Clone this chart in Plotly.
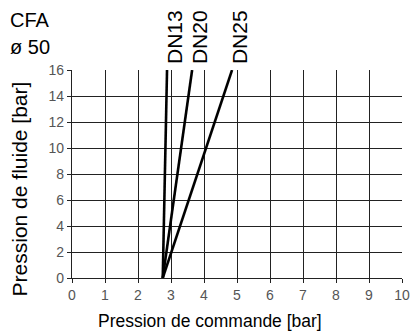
import plotly.graph_objects as go

series_names = ["DN13", "DN20", "DN25"]
start_x = [2.75, 2.75, 2.75]
end_x = [2.88, 3.64, 4.85]
start_y = [0, 0, 0]
end_y = [16, 16, 16]
x_ticks = list(range(0, 11))
y_ticks = list(range(0, 17, 2))

FONT = "Liberation Sans, Arial, Helvetica"

fig = go.Figure()
for n, x0, x1, y0, y1 in zip(series_names, start_x, end_x, start_y, end_y):
    fig.add_trace(go.Scatter(x=[x0, x1], y=[y0, y1], mode="lines",
                             line=dict(color="black", width=2.6), name=n,
                             showlegend=False, hoverinfo="skip"))
    fig.add_annotation(x=x1, y=y1, text=n, textangle=-90, showarrow=False,
                       xanchor="center", yanchor="bottom", yshift=4, xshift=7,
                       font=dict(family=FONT, size=21, color="black"))

fig.add_annotation(xref="paper", yref="paper", x=-0.194, y=1.240, text="CFA",
                   showarrow=False, xanchor="left", yanchor="middle",
                   font=dict(family=FONT, size=20, color="black"))
fig.add_annotation(xref="paper", yref="paper", x=-0.194, y=1.111, text="ø 50",
                   showarrow=False, xanchor="left", yanchor="middle",
                   font=dict(family=FONT, size=20, color="black"))
fig.add_annotation(xref="paper", yref="paper", x=0.417, y=-0.207,
                   text="Pression de commande [bar]", showarrow=False,
                   xanchor="center", yanchor="middle",
                   font=dict(family=FONT, size=17.5, color="black"))
fig.add_annotation(xref="paper", yref="paper", x=-0.158, y=0.43,
                   text="Pression de fluide [bar]", showarrow=False, textangle=-90,
                   xanchor="center", yanchor="middle",
                   font=dict(family=FONT, size=21, color="black"))

axis_common = dict(showgrid=True, gridcolor="#222", gridwidth=1.3,
                   showline=True, linecolor="#222", linewidth=1.3,
                   ticks="outside", ticklen=4, tickcolor="#222", zeroline=False,
                   tickfont=dict(family=FONT, size=14, color="#555"),
                   mirror=False, automargin=False)
fig.update_xaxes(range=[0, 10], tickvals=x_ticks, **axis_common)
fig.update_yaxes(range=[0, 16], tickvals=y_ticks, **axis_common)

fig.update_layout(width=416, height=334, margin=dict(l=72, r=14, t=70, b=56),
                  plot_bgcolor="white", paper_bgcolor="white")
fig.write_html("out.html", post_script="document.body.style.margin='0';",
               config={"displayModeBar": False})
